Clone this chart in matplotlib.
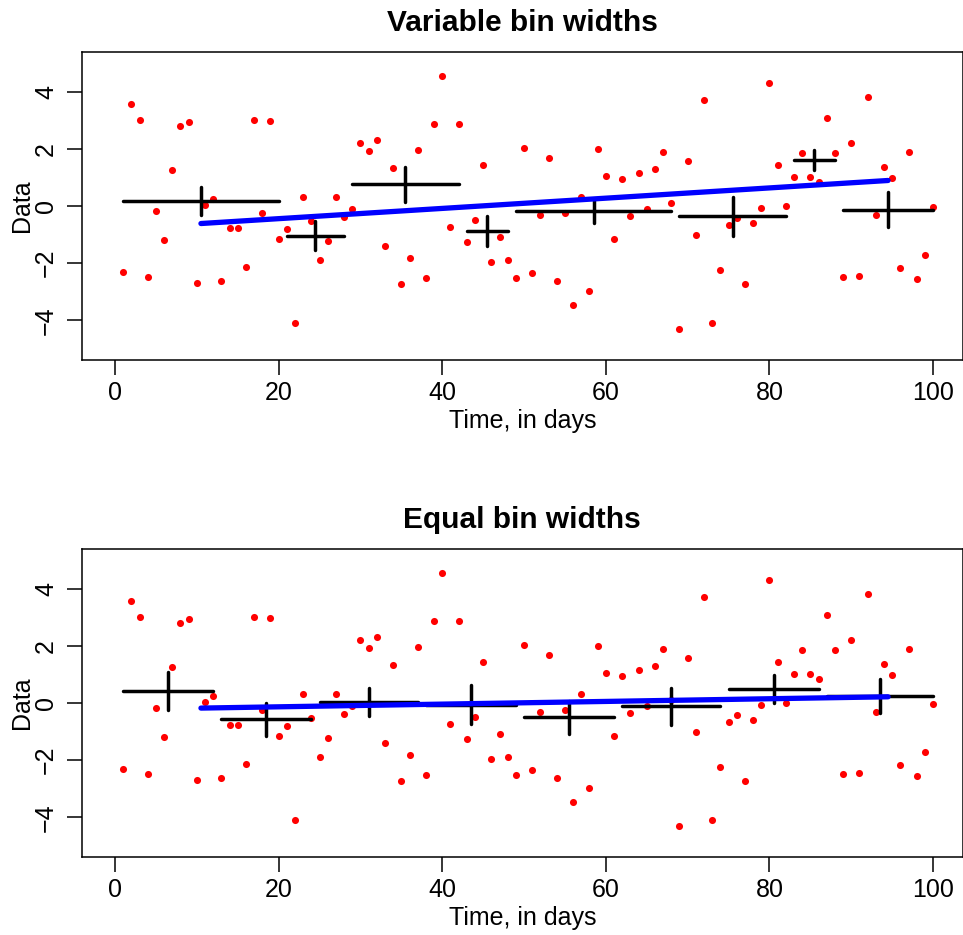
import numpy as np
import matplotlib.pyplot as plt

plt.rcParams['font.family'] = ['Liberation Sans', 'DejaVu Sans']

# daily observations, day 1 .. 100
days = np.arange(1, 101)
values = [
    -2.30, 3.58, 3.01, -2.47, -0.18, -1.19, 1.26, 2.78, 2.92, -2.70,
    0.02, 0.26, -2.63, -0.77, -0.78, -2.14, 3.02, -0.25, 2.96, -1.14,
    -0.81, -4.10, 0.30, -0.53, -1.89, -1.23, 0.30, -0.38, -0.11, 2.20,
    1.91, 2.32, -1.40, 1.34, -2.71, -1.82, 1.95, -2.53, 2.88, 4.54,
    -0.74, 2.88, -1.27, -0.49, 1.43, -1.94, -1.07, -1.89, -2.53, 2.04,
    -2.33, -0.32, 1.69, -2.61, -0.26, -3.46, 0.32, -2.97, 1.98, 1.05,
    -1.15, 0.93, -0.35, 1.14, -0.09, 1.31, 1.90, 0.11, -4.28, 1.57,
    -1.02, 3.71, -4.10, -2.24, -0.66, -0.42, -2.71, -0.58, -0.08, 4.29,
    1.42, -0.01, 1.03, 1.84, 1.03, 0.84, 3.06, 1.86, -2.49, 2.19,
    -2.46, 3.81, -0.32, 1.37, 0.98, -2.17, 1.89, -2.54, -1.71, -0.02,
]

# bins (first and last day of each bin)
var_start = [1, 21, 29, 43, 49, 69, 83, 89]
var_end = [20, 28, 42, 48, 68, 82, 88, 100]
eq_start = [1, 13, 25, 38, 50, 62, 75, 87]
eq_end = [12, 24, 37, 49, 61, 74, 86, 100]

# x range of the fitted line
fit_days = [10.5, 94.5]

y = np.array(values)

W, H = 963, 935
fig = plt.figure(figsize=(W / 100, H / 100), dpi=100)


def panel(top_px, title, starts, ends):
    ax = fig.add_axes([82 / W, 1 - (top_px + 308) / H, 880.5 / W, 308 / H])

    ax.plot(days, y, 'o', color='red', markersize=5.1, markeredgewidth=0, zorder=2)

    centers, means, errs = [], [], []
    for s, e in zip(starts, ends):
        sel = (days >= s) & (days <= e)
        m = y[sel].mean()
        se = y[sel].std(ddof=1) / np.sqrt(sel.sum())
        c = (s + e) / 2
        centers.append(c)
        means.append(m)
        errs.append(se)
        ax.plot([s, e], [m, m], color='black', lw=2.5, solid_capstyle='round', zorder=3)
        ax.plot([c, c], [m - se, m + se], color='black', lw=2.5, solid_capstyle='round', zorder=3)

    # weighted straight-line fit through the bin means
    coef = np.polyfit(centers, means, 1, w=1 / np.array(errs))
    xs = np.array(fit_days)
    ax.plot(xs, np.polyval(coef, xs), color='blue', lw=3.8, solid_capstyle='round', zorder=4)

    ax.set_xlim(-4.04, 103.6)
    ax.set_ylim(-5.38, 5.38)
    ax.set_xticks([0, 20, 40, 60, 80, 100])
    ax.set_yticks([-4, -2, 0, 2, 4])
    ax.tick_params(direction='out', length=10.8, width=1.1, labelsize=18)
    ax.tick_params(axis='x', pad=4.3)
    ax.tick_params(axis='y', pad=6.5)
    plt.setp(ax.get_yticklabels(), rotation=90, va='center')
    for sp in ax.spines.values():
        sp.set_linewidth(1.1)

    ax.set_xlabel('Time, in days', fontsize=18)
    ax.xaxis.set_label_coords(0.5, -61 / 308)
    ax.xaxis.label.set_va('center')
    ax.set_ylabel('Data', fontsize=18)
    ax.yaxis.set_label_coords(-60 / 880.5, 0.5)
    ax.yaxis.label.set_va('center')

    ax.text(0.5, 1 + 21 / 308, title, transform=ax.transAxes, ha='center',
            va='baseline', fontsize=21.5, fontweight='bold')
    return ax


panel(52, 'Variable bin widths', var_start, var_end)
panel(549, 'Equal bin widths', eq_start, eq_end)

plt.savefig('out.png', dpi=100)
plt.close('all')
